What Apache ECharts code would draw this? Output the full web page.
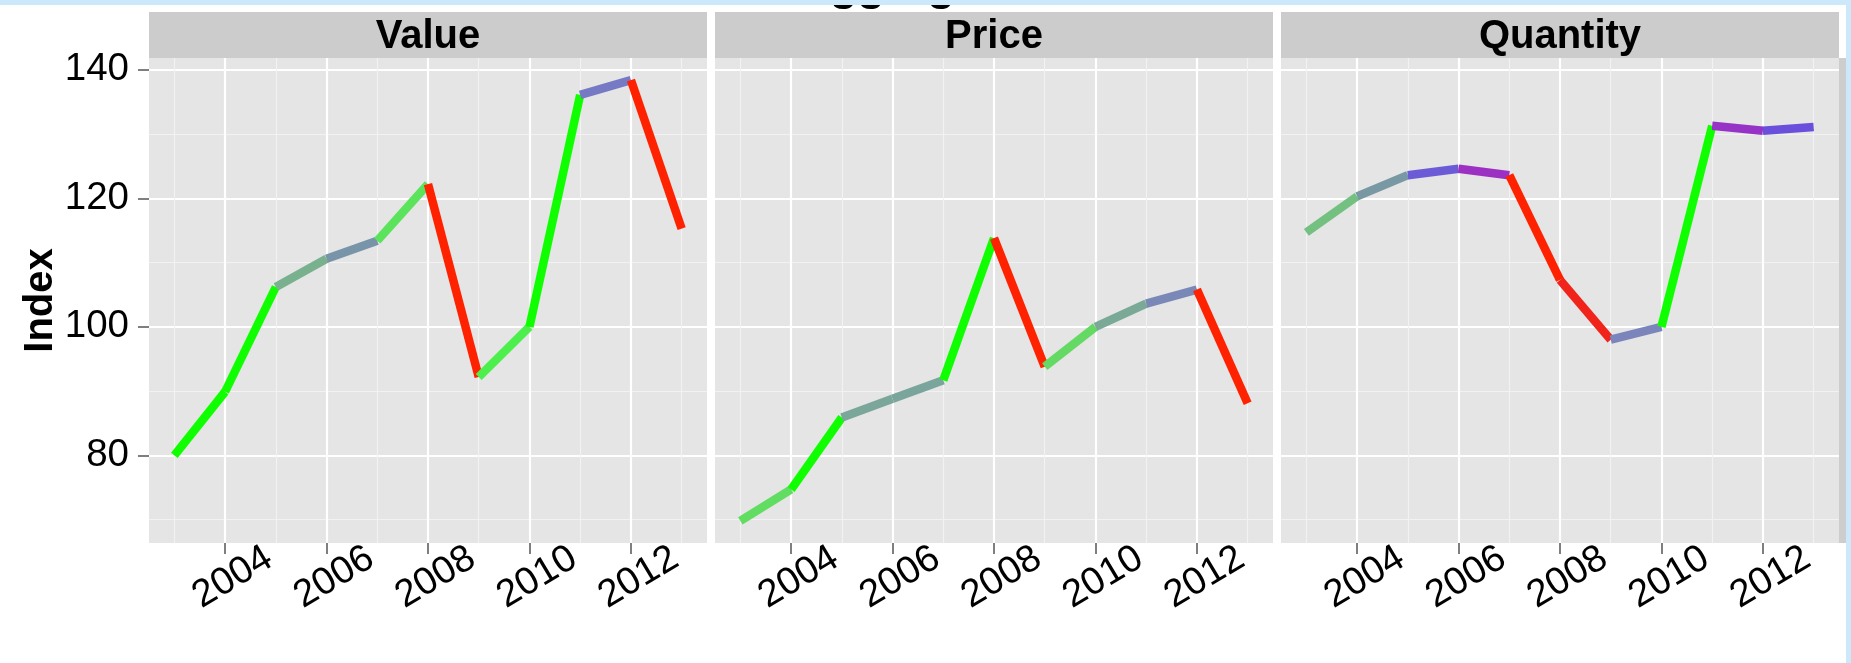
<!DOCTYPE html>
<html>
<head>
<meta charset="utf-8">
<script src="https://cdn.jsdelivr.net/npm/echarts@6/dist/echarts.min.js"></script>
<style>
    html, body {margin: 0; padding: 0; background: #fff;}
    #chart {width: 1851px; height: 663px;}
</style>
</head>
<body>
<div id="chart"></div>
<script>
const years = [2003, 2004, 2005, 2006, 2007, 2008, 2009, 2010, 2011, 2012, 2013];
const valueIndex = [80.0, 89.9, 106.2, 110.6, 113.4, 122.2, 92.2, 100.0, 136.1, 138.4, 115.3];
const priceIndex = [69.8, 74.7, 85.9, 88.8, 91.7, 113.8, 93.8, 100.0, 103.6, 105.8, 88.1];
const quantityIndex = [114.7, 120.3, 123.6, 124.6, 123.6, 107.3, 98.0, 100.0, 131.3, 130.5, 131.1];
const panelNames = ['Value', 'Price', 'Quantity'];
const xTicks = [2004, 2006, 2008, 2010, 2012];
const yTicks = [80, 100, 120, 140];

// colour scale: year-on-year change in % -> segment colour
const growthStops = [
    [-10, '#ff2200'],
    [-0.7, '#9b30c5'],
    [0.3, '#6a4ade'],
    [1.0, '#6c62d4'],
    [2.0, '#7b84bc'],
    [2.6, '#7896a6'],
    [3.4, '#7aa89a'],
    [4.2, '#79b28d'],
    [5.0, '#72c27e'],
    [6.6, '#64d964'],
    [7.8, '#5ce35c'],
    [8.5, '#4cf04c'],
    [10, '#10ff00'],
];

const FONT = 'Liberation Sans';
const panelLeft = [149, 715, 1281];
const panelTop = 58;
const panelW = 558;
const panelH = 485;
const stripTop = 12;
const stripH = 46;

const hex = (c) => [1, 3, 5].map(i => parseInt(c.slice(i, i + 2), 16));
const mix = (a, b, t) => {
    const A = hex(a), B = hex(b);
    return 'rgb(' + A.map((v, i) => Math.round(v + (B[i] - v) * t)).join(',') + ')';
};
const growthColor = (g) => {
    if (g <= growthStops[0][0]) return growthStops[0][1];
    for (let i = 1; i < growthStops.length; i++) {
        if (g <= growthStops[i][0]) {
            const t = (g - growthStops[i - 1][0]) / (growthStops[i][0] - growthStops[i - 1][0]);
            return mix(growthStops[i - 1][1], growthStops[i][1], t);
        }
    }
    return growthStops[growthStops.length - 1][1];
};

const panelData = [valueIndex, priceIndex, quantityIndex];

// ggplot style 5% expansion of the data range
const allVals = [].concat(...panelData);
const yLo = Math.min(...allVals), yHi = Math.max(...allVals);
const yMin = yLo - (yHi - yLo) * 0.05;
const yMax = yHi + (yHi - yLo) * 0.05;
const xMin = years[0] - (years[years.length - 1] - years[0]) * 0.05;
const xMax = years[years.length - 1] + (years[years.length - 1] - years[0]) * 0.05;

const chart = echarts.init(document.getElementById('chart'));

const grids = [], xAxes = [], yAxes = [], series = [], graphics = [];
const gridLines = {
    splitLine: {show: true, lineStyle: {color: '#ffffff', width: 2.2}},
    minorTick: {show: false, splitNumber: 2},
    minorSplitLine: {show: true, lineStyle: {color: '#f2f2f2', width: 1.2}},
};

panelNames.forEach((name, p) => {
    grids.push({
        left: panelLeft[p], top: panelTop, width: panelW, height: panelH,
        show: true, backgroundColor: '#e5e5e5', borderWidth: 0,
        containLabel: false, outerBoundsMode: 'none',
    });
    xAxes.push({
        type: 'value', gridIndex: p, min: xMin, max: xMax, minInterval: 2, maxInterval: 2,
        axisLine: {show: false},
        axisTick: {show: true, customValues: xTicks, length: 11, lineStyle: {color: '#7f7f7f', width: 2}},
        axisLabel: {
            customValues: xTicks, formatter: (v) => String(v),
            rotate: 31, align: 'center', verticalAlign: 'middle', margin: 39, padding: [0, 0, 0, 18],
            fontSize: 38.5, fontFamily: FONT, color: '#000',
        },
        ...gridLines,
    });
    yAxes.push({
        type: 'value', gridIndex: p, min: yMin, max: yMax, minInterval: 20, maxInterval: 20,
        axisLine: {show: false},
        axisTick: {show: p === 0, customValues: yTicks, length: 11, lineStyle: {color: '#7f7f7f', width: 2}},
        axisLabel: {
            show: p === 0, customValues: yTicks, margin: 20,
            fontSize: 38.5, fontFamily: FONT, color: '#000',
        },
        name: p === 0 ? 'Index' : '',
        nameLocation: 'middle', nameGap: 88,
        nameTextStyle: {fontSize: 40, fontWeight: 'bold', fontFamily: FONT, color: '#000'},
        ...gridLines,
    });

    // one series per segment so each can take its own colour
    const vals = panelData[p];
    for (let i = 0; i < years.length - 1; i++) {
        const g = (vals[i + 1] - vals[i]) / vals[i] * 100;
        series.push({
            type: 'line', xAxisIndex: p, yAxisIndex: p,
            data: [[years[i], vals[i]], [years[i + 1], vals[i + 1]]],
            symbol: 'none', showSymbol: false, silent: true,
            lineStyle: {color: growthColor(g), width: 8.5, cap: 'butt'},
            emphasis: {disabled: true},
        });
    }

    // facet strip
    graphics.push({
        type: 'rect', shape: {x: panelLeft[p], y: stripTop, width: panelW, height: stripH},
        style: {fill: '#cccccc'}, silent: true,
    });
    graphics.push({
        type: 'text', x: panelLeft[p] + panelW / 2, y: 36.5, silent: true,
        style: {text: name, font: 'bold 40px "' + FONT + '"', fill: '#000', align: 'center', verticalAlign: 'middle'},
    });
});

// title mostly hidden behind the page band
graphics.push({
    type: 'text', x: 797.5, y: -12, silent: true,
    style: {text: 'Aggregate', font: 'bold 45px "' + FONT + '"', fill: '#000', align: 'left', verticalAlign: 'middle'},
});
// grey bar right of the last panel and the light blue page border
graphics.push({
    type: 'rect', shape: {x: panelLeft[2] + panelW, y: panelTop, width: 7, height: panelH},
    style: {fill: '#cdcdcd'}, silent: true,
});
graphics.push({
    type: 'rect', shape: {x: 0, y: 0, width: 1851, height: 5}, z: 100,
    style: {fill: '#cbe9fb'}, silent: true,
});
graphics.push({
    type: 'rect', shape: {x: 1846, y: 0, width: 5, height: 663}, z: 100,
    style: {fill: '#cbe9fb'}, silent: true,
});

chart.setOption({
    backgroundColor: '#ffffff',
    animation: false,
    grid: grids,
    xAxis: xAxes,
    yAxis: yAxes,
    series: series,
    graphic: graphics,
});
</script>
</body>
</html>
